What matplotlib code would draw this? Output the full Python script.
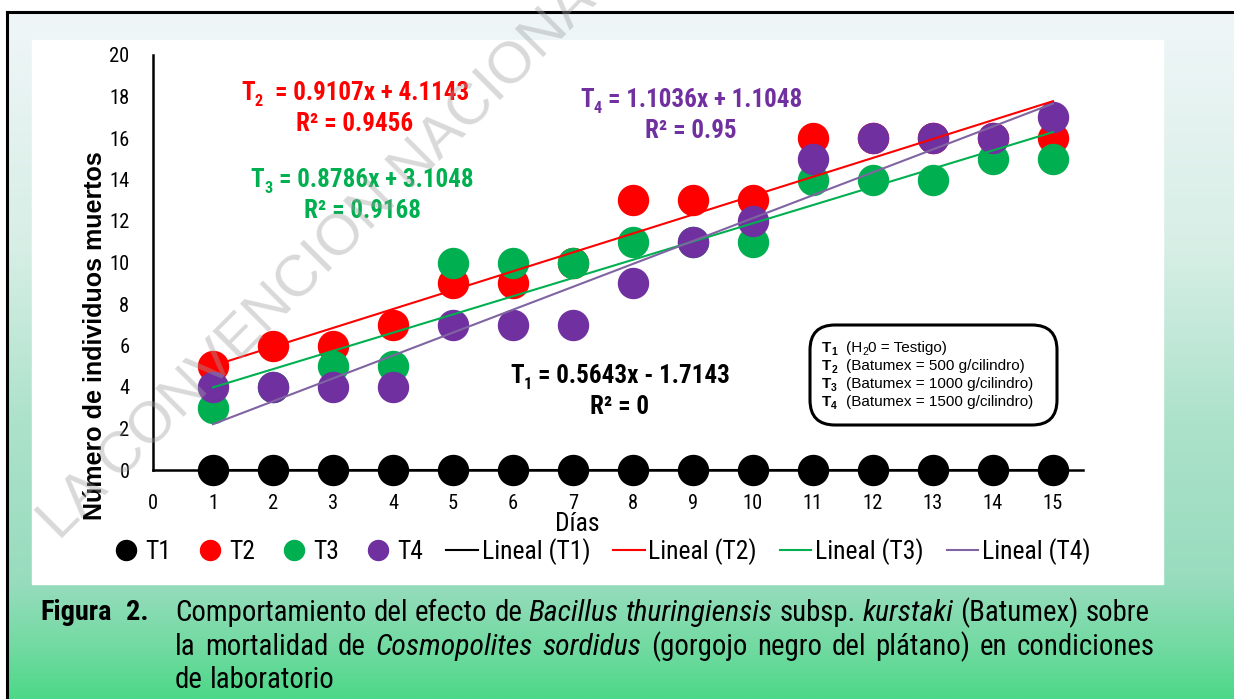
import os
import numpy as np
import matplotlib
matplotlib.use("Agg")
import matplotlib.pyplot as plt
import matplotlib.font_manager as fm
from matplotlib.font_manager import FontProperties
from matplotlib.textpath import TextToPath
from matplotlib.patches import Rectangle, FancyBboxPatch
from matplotlib.lines import Line2D

# datos: dias y numero de individuos muertos por tratamiento
dias = [1, 2, 3, 4, 5, 6, 7, 8, 9, 10, 11, 12, 13, 14, 15]
t1 = [0, 0, 0, 0, 0, 0, 0, 0, 0, 0, 0, 0, 0, 0, 0]
t2 = [5, 6, 6, 7, 9, 9, 10, 13, 13, 13, 16, 16, 16, 16, 16]
t3 = [3, 4, 5, 5, 10, 10, 10, 11, 11, 11, 14, 14, 14, 15, 15]
t4 = [4, 4, 4, 4, 7, 7, 7, 9, 11, 12, 15, 16, 16, 16, 17]
series_names = ["T1", "T2", "T3", "T4"]
x_ticks = list(range(0, 16))
y_ticks = list(range(0, 21, 2))

colores = ["#000000", "#FF0000", "#00B050", "#7030A0"]
colores_linea = ["#000000", "#FF0000", "#00B050", "#8064A2"]

plt.rcParams["font.family"] = ["Liberation Sans", "DejaVu Sans"]


# busca una fuente estrecha (tipo Arial Narrow); si no hay, usa Liberation Sans
def buscar_fuente(weight, italic):
    prefs = ["liberationsansnarrow", "roboto", "notosans", "opensans", "dejavusans"]
    for p in prefs:
        for f in fm.fontManager.ttflist:
            nm = (f.name + os.path.basename(f.fname)).lower().replace(" ", "")
            if p not in nm:
                continue
            if "narrow" not in nm and "condensed" not in nm:
                continue
            if any(s in nm for s in ("semi", "extra", "ultra", "mono")):
                continue
            w = f.weight if isinstance(f.weight, int) else fm.weight_dict.get(f.weight, 400)
            if abs(w - weight) > 50:
                continue
            if (f.style in ("italic", "oblique")) != italic:
                continue
            return f.fname
    return fm.findfont(FontProperties(family="Liberation Sans",
                                      weight="bold" if weight >= 700 else "normal",
                                      style="italic" if italic else "normal"))


_t2p = TextToPath()


def ancho_em(s, path):
    return _t2p.get_text_width_height_descent(s, FontProperties(fname=path, size=100), ismath=False)[0] / 100


# factor de escala para igualar el ancho de Arial Narrow (cifras y letras)
_fuentes = {}
for wt in (400, 700):
    for itl in (False, True):
        path = buscar_fuente(wt, itl)
        _fuentes[(wt, itl)] = (path, 4.56 / ancho_em("0123456789", path),
                               3.919 / ancho_em("Lineal (T4)", path))


def F(size, bold=False, italic=False, letras=False):
    path, kd, kl = _fuentes[(700 if bold else 400, italic)]
    return FontProperties(fname=path, size=size * (kl if letras else kd))


W, H = 1234, 699
fig = plt.figure(figsize=(W / 100, H / 100), dpi=100)
renderer = fig.canvas.get_renderer()


def fx(px):
    return px / W


def fy(py):
    return 1 - py / H


# fondo con degradado (blanco -> verde)
bg = fig.add_axes((0, 0, 1, 1), zorder=-10)
stops = np.array([0.0, 0.35, 0.6, 0.83, 0.93, 1.0])
cols = np.array([[240, 246, 248], [214, 238, 229], [172, 226, 202],
                 [152, 220, 190], [112, 218, 160], [76, 216, 136]]) / 255
t = np.linspace(0, 1, 400)
grad = np.stack([np.interp(t, stops, cols[:, k]) for k in range(3)], axis=1)[:, None, :]
bg.imshow(grad, extent=(7, W, H, 12), aspect="auto", interpolation="bilinear")
bg.add_patch(Rectangle((32, 40), 1131, 544, color="white"))
bg.plot([7, W], [12, 12], color="black", lw=2.2)
bg.plot([7, 7], [12, H], color="black", lw=2.2)
bg.set_xlim(0, W)
bg.set_ylim(H, 0)
bg.axis("off")

# grafico
ax = fig.add_axes((fx(153), fy(470), (1083 - 153) / W, (470 - 55) / H))
ax.patch.set_alpha(0)
datos = [t1, t2, t3, t4]
for ys, c in zip(datos, colores):
    ax.plot(dias, ys, "o", ms=21.6, color=c, ls="none", zorder=3, clip_on=False)
xs = np.array(dias)
for ys, c in zip(datos, colores_linea):
    m, b = np.polyfit(xs, ys, 1)
    ax.plot([xs[0], xs[-1]], [m * xs[0] + b, m * xs[-1] + b], color=c, lw=1.5, zorder=4)

ax.set_xlim(0, 15.5)
ax.set_ylim(0, 20)
ax.set_xticks(x_ticks)
ax.set_yticks(y_ticks)
for s in ["top", "right"]:
    ax.spines[s].set_visible(False)
for s in ["left", "bottom"]:
    ax.spines[s].set_linewidth(1.8)
ax.tick_params(axis="both", length=0)
ax.tick_params(axis="x", pad=17)
ax.tick_params(axis="y", pad=17)
for lab in ax.get_xticklabels() + ax.get_yticklabels():
    lab.set_fontproperties(F(16))

ax.set_xlabel("Días", fontproperties=F(20, letras=True))
ax.xaxis.label.set_va("center")
ax.xaxis.set_label_coords((577 - 153) / 930, (470 - 524) / 415)
fig.text(fx(95), fy(336), "Número de individuos muertos", rotation=90,
         fontsize=18, fontweight="bold", ha="center", va="center")

# leyenda
handles = [Line2D([], [], marker="o", ls="none", color=c, ms=14.4) for c in colores]
handles += [Line2D([], [], color=c, lw=1.5) for c in colores_linea]
labels = series_names + ["Lineal (%s)" % n for n in series_names]
fig.legend(handles, labels, loc="center left", bbox_to_anchor=(fx(110), fy(552)),
           ncol=8, frameon=False, prop=F(20, letras=True),
           handlelength=1.22, handletextpad=0.15, columnspacing=0.9,
           borderpad=0, borderaxespad=0)


# texto compuesto por trozos (para subindices)
def trozos(x, y, piezas, color="black", centrado=True):
    objs = [fig.text(0, 0, s, fontproperties=fp, color=color, va="baseline")
            for s, fp, dy, gap in piezas]
    widths = [o.get_window_extent(renderer).width for o in objs]
    total = sum(widths) + sum(p[3] for p in piezas)
    x0 = x - total / 2 if centrado else x
    for o, w, (s, fp, dy, gap) in zip(objs, widths, piezas):
        o.set_position((fx(x0), fy(y + dy)))
        x0 += w + gap


def ecuacion(xc, yb, n, resto, r2, color, gap=6):
    trozos(xc, yb, [("T", F(20, True), 0, 0), (n, F(13, True), 6, gap),
                    (resto, F(20, True), 0, 0)], color)
    trozos(xc, yb + 31, [(r2, F(20, True), 0, 0)], color)


ecuacion(355, 100, "2", "= 0.9107x + 4.1143", "R² = 0.9456", "#FF0000", gap=12)
ecuacion(362, 187, "3", "= 0.8786x + 3.1048", "R² = 0.9168", "#00B050")
ecuacion(691, 107, "4", "= 1.1036x + 1.1048", "R² = 0.95", "#7030A0")
ecuacion(620, 383, "1", "= 0.5643x - 1.7143", "R² = 0", "black")

# cuadro de tratamientos
box = FancyBboxPatch((8.10, (H - 425) / 100), 2.47, 1.0,
                     boxstyle="round,pad=0,rounding_size=0.25",
                     transform=fig.dpi_scale_trans, fc="white", ec="black", lw=2.2)
fig.add_artist(box)
bold11 = FontProperties(family="Liberation Sans", weight="bold", size=11)
bold7 = FontProperties(family="Liberation Sans", weight="bold", size=7.5)
reg11 = FontProperties(family="Liberation Sans", size=11)
reg7 = FontProperties(family="Liberation Sans", size=7.5)
trat = [("(H", "2", "0 = Testigo)"), ("(Batumex = 500 g/cilindro)", None, None),
        ("(Batumex = 1000 g/cilindro)", None, None), ("(Batumex = 1500 g/cilindro)", None, None)]
for i, (a, sub, c) in enumerate(trat):
    yy = 352 + 18 * i
    trozos(822, yy, [("T", bold11, 0, 0), (str(i + 1), bold7, 3, 0)], centrado=False)
    piezas = [(a, reg11, 0, 0)]
    if sub:
        piezas += [(sub, reg7, 3, 0), (c, reg11, 0, 0)]
    trozos(846, yy, piezas, centrado=False)

# marca de agua
fig.text(fx(60), fy(542), "LA CONVENCION NACIONAL", rotation=45, rotation_mode="anchor",
         ha="left", va="baseline", fontsize=42, color="#a0a0a0", alpha=0.4, zorder=20)

# leyenda de la figura (texto justificado); el tamaño se ajusta a la primera linea
cap1 = [("Comportamiento del efecto de", False), ("Bacillus thuringiensis", True),
        ("subsp.", False), ("kurstaki", True), ("(Batumex) sobre", False)]
cap2 = [("la mortalidad de", False), ("Cosmopolites sordidus", True),
        ("(gorgojo negro del plátano) en condiciones", False)]
cap3 = [("de laboratorio", False)]


def palabras(segs, size):
    out = []
    for txt, it in segs:
        for w in txt.split():
            fp = F(size, italic=it, letras=True)
            out.append((w, fp, ancho_em(w, fp.get_file()) * fp.get_size() * 100 / 72))
    return out


def espacio(size):
    fp = F(size, letras=True)
    return ancho_em("n n", fp.get_file()) - ancho_em("nn", fp.get_file())


base = 18.0
ws = palabras(cap1, base)
natural = sum(w[2] for w in ws) + (len(ws) - 1) * espacio(base) * F(base, letras=True).get_size() * 100 / 72
size_cap = base * (1150 - 175) / natural


def linea(segs, x0, y, x1=None):
    ws = palabras(segs, size_cap)
    if x1 is None:
        gap = espacio(size_cap) * F(size_cap, letras=True).get_size() * 100 / 72
    else:
        gap = (x1 - x0 - sum(w[2] for w in ws)) / (len(ws) - 1)
    x = x0
    for w, fp, wd in ws:
        fig.text(fx(x), fy(y), w, fontproperties=fp, va="center")
        x += wd + gap


fig.text(fx(40), fy(613), "Figura", fontproperties=F(size_cap, True, letras=True), va="center")
fig.text(fx(126), fy(613), "2.", fontproperties=F(size_cap, True, letras=True), va="center")
linea(cap1, 175, 613, 1150)
linea(cap2, 175, 647, 1155)
linea(cap3, 175, 680)

fig.savefig("out.png", dpi=100)
